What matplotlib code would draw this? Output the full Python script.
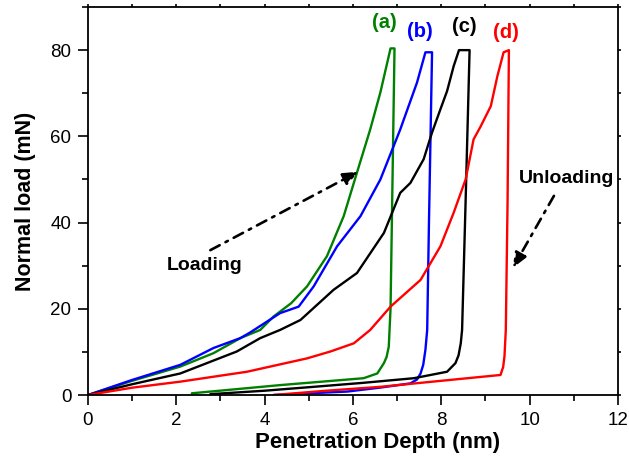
import matplotlib
matplotlib.use("Agg")
import matplotlib.pyplot as plt
from matplotlib.ticker import MultipleLocator

plt.rcParams['font.family'] = ['Liberation Sans', 'DejaVu Sans']

# (a) green: loading, hold, unloading
a_x = [0, 1.0, 2.09, 2.84, 3.45, 3.9, 4.2, 4.6, 4.96, 5.41, 5.79, 6.09, 6.39, 6.62, 6.85, 6.94,
       6.88, 6.85, 6.81, 6.76, 6.70, 6.55, 6.24, 5.3, 4.35, 3.3, 2.35]
a_y = [0, 3.3, 6.6, 9.7, 13.2, 15.1, 18.2, 21.3, 25.2, 32.2, 41.5, 51.6, 61.6, 70.2, 80.4, 80.4,
       40.0, 20.0, 11.2, 8.8, 7.4, 5.0, 3.9, 3.1, 2.3, 1.3, 0.4]

# (b) blue
b_x = [0, 1.0, 2.09, 2.84, 3.45, 3.67, 4.35, 4.77, 5.11, 5.64, 6.17, 6.62, 7.07, 7.45, 7.64, 7.79,
       7.72, 7.68, 7.64, 7.59, 7.53, 7.45, 7.30, 6.6, 5.87, 5.0, 4.2]
b_y = [0, 3.5, 7.0, 10.9, 13.2, 14.5, 19.0, 20.5, 25.2, 34.5, 41.5, 50.0, 61.6, 72.5, 79.5, 79.5,
       40.0, 15.1, 10.5, 7.0, 5.0, 3.6, 2.7, 1.7, 0.8, 0.4, 0.0]

# (c) black
c_x = [0, 1.0, 2.09, 3.37, 3.9, 4.35, 4.81, 5.56, 6.09, 6.70, 7.07, 7.30, 7.60, 7.79, 7.98, 8.13, 8.28, 8.40, 8.64,
       8.55, 8.47, 8.44, 8.39, 8.32, 8.13, 7.38, 6.2, 5.11, 4.0, 2.77]
c_y = [0, 2.5, 5.0, 10.1, 13.2, 15.1, 17.4, 24.4, 28.3, 37.6, 46.9, 49.2, 54.7, 60.9, 66.3, 70.5, 76.3, 80.0, 80.0,
       45.0, 15.1, 12.0, 9.2, 7.4, 5.4, 3.9, 2.8, 1.9, 1.0, 0.2]

# (d) red
d_x = [0, 1.0, 2.09, 3.60, 4.96, 5.49, 6.02, 6.39, 6.85, 7.53, 7.98, 8.28, 8.55, 8.73, 8.89, 9.12, 9.27, 9.41, 9.53,
       9.50, 9.46, 9.43, 9.40, 9.34, 8.0, 6.62, 5.4, 4.2]
d_y = [0, 1.7, 3.1, 5.4, 8.5, 10.1, 12.0, 15.1, 20.5, 26.7, 34.5, 42.3, 50.0, 59.3, 62.3, 67.0, 74.0, 79.5, 80.0,
       45.0, 15.1, 9.0, 6.5, 4.65, 3.3, 1.9, 1.0, 0.0]

series = [(a_x, a_y, '#008000', '(a)', 6.72, 86.5),
          (b_x, b_y, '#0000FF', '(b)', 7.52, 84.4),
          (c_x, c_y, '#000000', '(c)', 8.52, 85.4),
          (d_x, d_y, '#FF0000', '(d)', 9.47, 84.0)]

fig = plt.figure(figsize=(6.29, 4.59), dpi=100)
ax = fig.add_axes([0.1399, 0.1394, 0.8426, 0.8453])

for xs, ys, col, lab, tx, ty in series:
    ax.plot(xs, ys, color=col, lw=1.7, solid_joinstyle='round', solid_capstyle='round')
    ax.text(tx, ty, lab, color=col, fontsize=14.5, fontweight='bold', ha='center', va='center')

arrow_props = dict(arrowstyle='-|>,head_length=0.9,head_width=0.38', color='black',
                   lw=1.9, linestyle=(0, (4, 2.5, 1, 2.5)), shrinkA=0, shrinkB=0)
ax.annotate('', xy=(6.12, 51.8), xytext=(2.77, 33.6), arrowprops=arrow_props)
ax.text(2.65, 30.0, 'Loading', fontsize=14, fontweight='bold', ha='center', va='center')

ax.annotate('', xy=(9.62, 29.5), xytext=(10.55, 46.2), arrowprops=arrow_props)
ax.text(10.84, 50.2, 'Unloading', fontsize=14, fontweight='bold', ha='center', va='center')

ax.set_xlim(0, 12)
ax.set_ylim(0, 90)
ax.xaxis.set_major_locator(MultipleLocator(2))
ax.xaxis.set_minor_locator(MultipleLocator(1))
ax.set_yticks([0, 20, 40, 60, 80])
ax.yaxis.set_minor_locator(MultipleLocator(10))

ax.tick_params(which='major', direction='out', length=7, width=1.2, labelsize=13.5,
               color='black', pad=5)
ax.tick_params(which='minor', direction='out', length=4, width=1.2)
ax.tick_params(which='both', top=True, right=True, labeltop=False, labelright=False)
for t in ax.xaxis.get_major_ticks() + ax.xaxis.get_minor_ticks():
    t.tick2line.set_markersize(2)
for t in ax.yaxis.get_major_ticks() + ax.yaxis.get_minor_ticks():
    t.tick2line.set_markersize(2)

for s in ax.spines.values():
    s.set_linewidth(1.3)

ax.set_xlabel('Penetration Depth (nm)', fontsize=16, fontweight='bold', labelpad=3)
ax.xaxis.set_label_coords(0.546, -0.095)
ax.set_ylabel('Normal load (mN)', fontsize=15.5, fontweight='bold', labelpad=10)

fig.savefig('out.png', dpi=100)
